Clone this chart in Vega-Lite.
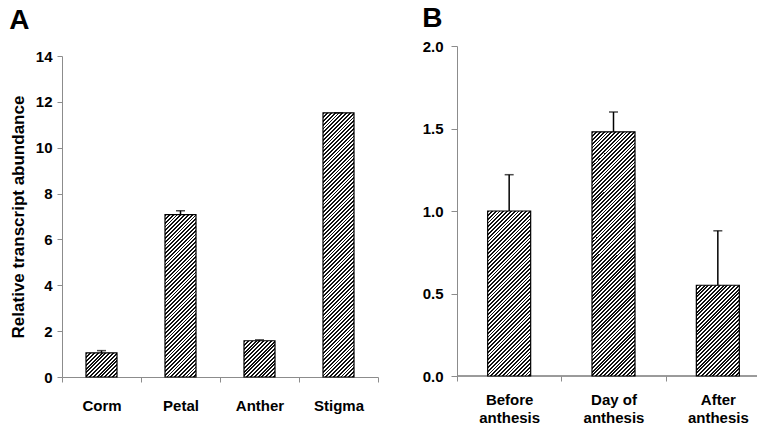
{
  "$schema": "https://vega.github.io/schema/vega-lite/v6.json",
  "background": "white",
  "padding": {"left": 9, "top": 5, "right": 0, "bottom": 0},
  "spacing": 43,
  "config": {
    "view": {"stroke": null},
    "font": "Liberation Sans",
    "axis": {
      "labelFont": "Liberation Sans",
      "labelFontWeight": "bold",
      "labelFontSize": 15,
      "labelColor": "#000",
      "titleFont": "Liberation Sans",
      "titleFontWeight": "bold",
      "titleFontSize": 17,
      "titleColor": "#000",
      "domainColor": "#8c8c8c",
      "tickColor": "#8c8c8c",
      "grid": false,
      "tickSize": 5
    },
    "title": {"font": "Liberation Sans", "fontWeight": "bold", "fontSize": 28, "color": "#000", "anchor": "start", "frame": "bounds"}
  },
  "params": [
    {"name": "hatch", "value": [
{"offset":0,"color":"#111"},
{"offset":0.00625,"color":"#111"},{"offset":0.00625,"color":"#fff"},
{"offset":0.0125,"color":"#fff"},{"offset":0.0125,"color":"#111"},
{"offset":0.01875,"color":"#111"},{"offset":0.01875,"color":"#fff"},
{"offset":0.025,"color":"#fff"},{"offset":0.025,"color":"#111"},
{"offset":0.03125,"color":"#111"},{"offset":0.03125,"color":"#fff"},
{"offset":0.0375,"color":"#fff"},{"offset":0.0375,"color":"#111"},
{"offset":0.04375,"color":"#111"},{"offset":0.04375,"color":"#fff"},
{"offset":0.05,"color":"#fff"},{"offset":0.05,"color":"#111"},
{"offset":0.05625,"color":"#111"},{"offset":0.05625,"color":"#fff"},
{"offset":0.0625,"color":"#fff"},{"offset":0.0625,"color":"#111"},
{"offset":0.06875,"color":"#111"},{"offset":0.06875,"color":"#fff"},
{"offset":0.075,"color":"#fff"},{"offset":0.075,"color":"#111"},
{"offset":0.08125,"color":"#111"},{"offset":0.08125,"color":"#fff"},
{"offset":0.0875,"color":"#fff"},{"offset":0.0875,"color":"#111"},
{"offset":0.09375,"color":"#111"},{"offset":0.09375,"color":"#fff"},
{"offset":0.1,"color":"#fff"},{"offset":0.1,"color":"#111"},
{"offset":0.10625,"color":"#111"},{"offset":0.10625,"color":"#fff"},
{"offset":0.1125,"color":"#fff"},{"offset":0.1125,"color":"#111"},
{"offset":0.11875,"color":"#111"},{"offset":0.11875,"color":"#fff"},
{"offset":0.125,"color":"#fff"},{"offset":0.125,"color":"#111"},
{"offset":0.13125,"color":"#111"},{"offset":0.13125,"color":"#fff"},
{"offset":0.1375,"color":"#fff"},{"offset":0.1375,"color":"#111"},
{"offset":0.14375,"color":"#111"},{"offset":0.14375,"color":"#fff"},
{"offset":0.15,"color":"#fff"},{"offset":0.15,"color":"#111"},
{"offset":0.15625,"color":"#111"},{"offset":0.15625,"color":"#fff"},
{"offset":0.1625,"color":"#fff"},{"offset":0.1625,"color":"#111"},
{"offset":0.16875,"color":"#111"},{"offset":0.16875,"color":"#fff"},
{"offset":0.175,"color":"#fff"},{"offset":0.175,"color":"#111"},
{"offset":0.18125,"color":"#111"},{"offset":0.18125,"color":"#fff"},
{"offset":0.1875,"color":"#fff"},{"offset":0.1875,"color":"#111"},
{"offset":0.19375,"color":"#111"},{"offset":0.19375,"color":"#fff"},
{"offset":0.2,"color":"#fff"},{"offset":0.2,"color":"#111"},
{"offset":0.20625,"color":"#111"},{"offset":0.20625,"color":"#fff"},
{"offset":0.2125,"color":"#fff"},{"offset":0.2125,"color":"#111"},
{"offset":0.21875,"color":"#111"},{"offset":0.21875,"color":"#fff"},
{"offset":0.225,"color":"#fff"},{"offset":0.225,"color":"#111"},
{"offset":0.23125,"color":"#111"},{"offset":0.23125,"color":"#fff"},
{"offset":0.2375,"color":"#fff"},{"offset":0.2375,"color":"#111"},
{"offset":0.24375,"color":"#111"},{"offset":0.24375,"color":"#fff"},
{"offset":0.25,"color":"#fff"},{"offset":0.25,"color":"#111"},
{"offset":0.25625,"color":"#111"},{"offset":0.25625,"color":"#fff"},
{"offset":0.2625,"color":"#fff"},{"offset":0.2625,"color":"#111"},
{"offset":0.26875,"color":"#111"},{"offset":0.26875,"color":"#fff"},
{"offset":0.275,"color":"#fff"},{"offset":0.275,"color":"#111"},
{"offset":0.28125,"color":"#111"},{"offset":0.28125,"color":"#fff"},
{"offset":0.2875,"color":"#fff"},{"offset":0.2875,"color":"#111"},
{"offset":0.29375,"color":"#111"},{"offset":0.29375,"color":"#fff"},
{"offset":0.3,"color":"#fff"},{"offset":0.3,"color":"#111"},
{"offset":0.30625,"color":"#111"},{"offset":0.30625,"color":"#fff"},
{"offset":0.3125,"color":"#fff"},{"offset":0.3125,"color":"#111"},
{"offset":0.31875,"color":"#111"},{"offset":0.31875,"color":"#fff"},
{"offset":0.325,"color":"#fff"},{"offset":0.325,"color":"#111"},
{"offset":0.33125,"color":"#111"},{"offset":0.33125,"color":"#fff"},
{"offset":0.3375,"color":"#fff"},{"offset":0.3375,"color":"#111"},
{"offset":0.34375,"color":"#111"},{"offset":0.34375,"color":"#fff"},
{"offset":0.35,"color":"#fff"},{"offset":0.35,"color":"#111"},
{"offset":0.35625,"color":"#111"},{"offset":0.35625,"color":"#fff"},
{"offset":0.3625,"color":"#fff"},{"offset":0.3625,"color":"#111"},
{"offset":0.36875,"color":"#111"},{"offset":0.36875,"color":"#fff"},
{"offset":0.375,"color":"#fff"},{"offset":0.375,"color":"#111"},
{"offset":0.38125,"color":"#111"},{"offset":0.38125,"color":"#fff"},
{"offset":0.3875,"color":"#fff"},{"offset":0.3875,"color":"#111"},
{"offset":0.39375,"color":"#111"},{"offset":0.39375,"color":"#fff"},
{"offset":0.4,"color":"#fff"},{"offset":0.4,"color":"#111"},
{"offset":0.40625,"color":"#111"},{"offset":0.40625,"color":"#fff"},
{"offset":0.4125,"color":"#fff"},{"offset":0.4125,"color":"#111"},
{"offset":0.41875,"color":"#111"},{"offset":0.41875,"color":"#fff"},
{"offset":0.425,"color":"#fff"},{"offset":0.425,"color":"#111"},
{"offset":0.43125,"color":"#111"},{"offset":0.43125,"color":"#fff"},
{"offset":0.4375,"color":"#fff"},{"offset":0.4375,"color":"#111"},
{"offset":0.44375,"color":"#111"},{"offset":0.44375,"color":"#fff"},
{"offset":0.45,"color":"#fff"},{"offset":0.45,"color":"#111"},
{"offset":0.45625,"color":"#111"},{"offset":0.45625,"color":"#fff"},
{"offset":0.4625,"color":"#fff"},{"offset":0.4625,"color":"#111"},
{"offset":0.46875,"color":"#111"},{"offset":0.46875,"color":"#fff"},
{"offset":0.475,"color":"#fff"},{"offset":0.475,"color":"#111"},
{"offset":0.48125,"color":"#111"},{"offset":0.48125,"color":"#fff"},
{"offset":0.4875,"color":"#fff"},{"offset":0.4875,"color":"#111"},
{"offset":0.49375,"color":"#111"},{"offset":0.49375,"color":"#fff"},
{"offset":0.5,"color":"#fff"},{"offset":0.5,"color":"#111"},
{"offset":0.50625,"color":"#111"},{"offset":0.50625,"color":"#fff"},
{"offset":0.5125,"color":"#fff"},{"offset":0.5125,"color":"#111"},
{"offset":0.51875,"color":"#111"},{"offset":0.51875,"color":"#fff"},
{"offset":0.525,"color":"#fff"},{"offset":0.525,"color":"#111"},
{"offset":0.53125,"color":"#111"},{"offset":0.53125,"color":"#fff"},
{"offset":0.5375,"color":"#fff"},{"offset":0.5375,"color":"#111"},
{"offset":0.54375,"color":"#111"},{"offset":0.54375,"color":"#fff"},
{"offset":0.55,"color":"#fff"},{"offset":0.55,"color":"#111"},
{"offset":0.55625,"color":"#111"},{"offset":0.55625,"color":"#fff"},
{"offset":0.5625,"color":"#fff"},{"offset":0.5625,"color":"#111"},
{"offset":0.56875,"color":"#111"},{"offset":0.56875,"color":"#fff"},
{"offset":0.575,"color":"#fff"},{"offset":0.575,"color":"#111"},
{"offset":0.58125,"color":"#111"},{"offset":0.58125,"color":"#fff"},
{"offset":0.5875,"color":"#fff"},{"offset":0.5875,"color":"#111"},
{"offset":0.59375,"color":"#111"},{"offset":0.59375,"color":"#fff"},
{"offset":0.6,"color":"#fff"},{"offset":0.6,"color":"#111"},
{"offset":0.60625,"color":"#111"},{"offset":0.60625,"color":"#fff"},
{"offset":0.6125,"color":"#fff"},{"offset":0.6125,"color":"#111"},
{"offset":0.61875,"color":"#111"},{"offset":0.61875,"color":"#fff"},
{"offset":0.625,"color":"#fff"},{"offset":0.625,"color":"#111"},
{"offset":0.63125,"color":"#111"},{"offset":0.63125,"color":"#fff"},
{"offset":0.6375,"color":"#fff"},{"offset":0.6375,"color":"#111"},
{"offset":0.64375,"color":"#111"},{"offset":0.64375,"color":"#fff"},
{"offset":0.65,"color":"#fff"},{"offset":0.65,"color":"#111"},
{"offset":0.65625,"color":"#111"},{"offset":0.65625,"color":"#fff"},
{"offset":0.6625,"color":"#fff"},{"offset":0.6625,"color":"#111"},
{"offset":0.66875,"color":"#111"},{"offset":0.66875,"color":"#fff"},
{"offset":0.675,"color":"#fff"},{"offset":0.675,"color":"#111"},
{"offset":0.68125,"color":"#111"},{"offset":0.68125,"color":"#fff"},
{"offset":0.6875,"color":"#fff"},{"offset":0.6875,"color":"#111"},
{"offset":0.69375,"color":"#111"},{"offset":0.69375,"color":"#fff"},
{"offset":0.7,"color":"#fff"},{"offset":0.7,"color":"#111"},
{"offset":0.70625,"color":"#111"},{"offset":0.70625,"color":"#fff"},
{"offset":0.7125,"color":"#fff"},{"offset":0.7125,"color":"#111"},
{"offset":0.71875,"color":"#111"},{"offset":0.71875,"color":"#fff"},
{"offset":0.725,"color":"#fff"},{"offset":0.725,"color":"#111"},
{"offset":0.73125,"color":"#111"},{"offset":0.73125,"color":"#fff"},
{"offset":0.7375,"color":"#fff"},{"offset":0.7375,"color":"#111"},
{"offset":0.74375,"color":"#111"},{"offset":0.74375,"color":"#fff"},
{"offset":0.75,"color":"#fff"},{"offset":0.75,"color":"#111"},
{"offset":0.75625,"color":"#111"},{"offset":0.75625,"color":"#fff"},
{"offset":0.7625,"color":"#fff"},{"offset":0.7625,"color":"#111"},
{"offset":0.76875,"color":"#111"},{"offset":0.76875,"color":"#fff"},
{"offset":0.775,"color":"#fff"},{"offset":0.775,"color":"#111"},
{"offset":0.78125,"color":"#111"},{"offset":0.78125,"color":"#fff"},
{"offset":0.7875,"color":"#fff"},{"offset":0.7875,"color":"#111"},
{"offset":0.79375,"color":"#111"},{"offset":0.79375,"color":"#fff"},
{"offset":0.8,"color":"#fff"},{"offset":0.8,"color":"#111"},
{"offset":0.80625,"color":"#111"},{"offset":0.80625,"color":"#fff"},
{"offset":0.8125,"color":"#fff"},{"offset":0.8125,"color":"#111"},
{"offset":0.81875,"color":"#111"},{"offset":0.81875,"color":"#fff"},
{"offset":0.825,"color":"#fff"},{"offset":0.825,"color":"#111"},
{"offset":0.83125,"color":"#111"},{"offset":0.83125,"color":"#fff"},
{"offset":0.8375,"color":"#fff"},{"offset":0.8375,"color":"#111"},
{"offset":0.84375,"color":"#111"},{"offset":0.84375,"color":"#fff"},
{"offset":0.85,"color":"#fff"},{"offset":0.85,"color":"#111"},
{"offset":0.85625,"color":"#111"},{"offset":0.85625,"color":"#fff"},
{"offset":0.8625,"color":"#fff"},{"offset":0.8625,"color":"#111"},
{"offset":0.86875,"color":"#111"},{"offset":0.86875,"color":"#fff"},
{"offset":0.875,"color":"#fff"},{"offset":0.875,"color":"#111"},
{"offset":0.88125,"color":"#111"},{"offset":0.88125,"color":"#fff"},
{"offset":0.8875,"color":"#fff"},{"offset":0.8875,"color":"#111"},
{"offset":0.89375,"color":"#111"},{"offset":0.89375,"color":"#fff"},
{"offset":0.9,"color":"#fff"},{"offset":0.9,"color":"#111"},
{"offset":0.90625,"color":"#111"},{"offset":0.90625,"color":"#fff"},
{"offset":0.9125,"color":"#fff"},{"offset":0.9125,"color":"#111"},
{"offset":0.91875,"color":"#111"},{"offset":0.91875,"color":"#fff"},
{"offset":0.925,"color":"#fff"},{"offset":0.925,"color":"#111"},
{"offset":0.93125,"color":"#111"},{"offset":0.93125,"color":"#fff"},
{"offset":0.9375,"color":"#fff"},{"offset":0.9375,"color":"#111"},
{"offset":0.94375,"color":"#111"},{"offset":0.94375,"color":"#fff"},
{"offset":0.95,"color":"#fff"},{"offset":0.95,"color":"#111"},
{"offset":0.95625,"color":"#111"},{"offset":0.95625,"color":"#fff"},
{"offset":0.9625,"color":"#fff"},{"offset":0.9625,"color":"#111"},
{"offset":0.96875,"color":"#111"},{"offset":0.96875,"color":"#fff"},
{"offset":0.975,"color":"#fff"},{"offset":0.975,"color":"#111"},
{"offset":0.98125,"color":"#111"},{"offset":0.98125,"color":"#fff"},
{"offset":0.9875,"color":"#fff"},{"offset":0.9875,"color":"#111"},
{"offset":0.99375,"color":"#111"},{"offset":0.99375,"color":"#fff"},
{"offset":1,"color":"#fff"}
    ]}
  ],
  "hconcat": [
    {
      "title": {"text": "A", "offset": 11},
      "width": 316,
      "height": 331,
      "data": {"values": [
        {"tissue": "Corm", "value": 1.05, "upper": 1.15},
        {"tissue": "Petal", "value": 7.08, "upper": 7.25},
        {"tissue": "Anther", "value": 1.58, "upper": 1.62},
        {"tissue": "Stigma", "value": 11.52, "upper": 11.52}
      ]},
      "encoding": {
        "x": {
          "field": "tissue", "type": "nominal", "sort": null,
          "scale": {"paddingInner": 0, "paddingOuter": 0},
          "axis": {"title": null, "labelAngle": 0, "tickBand": "extent", "labelPadding": 16, "labelOverlap": false}
        },
        "y": {
          "type": "quantitative",
          "scale": {"domain": [0, 14], "nice": false, "range": [331, 10]},
          "axis": {"title": "Relative transcript abundance", "values": [0, 2, 4, 6, 8, 10, 12, 14], "labelPadding": 5, "titlePadding": 8}
        }
      },
      "layer": [
        {
          "mark": {
            "type": "bar", "width": 31, "stroke": "#000", "strokeWidth": 1.2,
            "fill": {"expr": "{gradient: 'linear', x1: 0, y1: 0, x2: 31 * 304 / (961 + pow(datum.value * 22.9286, 2)), y2: datum.value * 22.9286 * 304 / (961 + pow(datum.value * 22.9286, 2)), stops: hatch}"}
          },
          "encoding": {
            "y": {"field": "value", "type": "quantitative", "stack": null}
          }
        },
        {
          "mark": {"type": "rule", "color": "#000", "strokeWidth": 1.5},
          "encoding": {
            "y": {"field": "value", "type": "quantitative"},
            "y2": {"field": "upper"}
          }
        },
        {
          "mark": {"type": "tick", "color": "#000", "size": 9, "thickness": 1.5},
          "encoding": {
            "y": {"field": "upper", "type": "quantitative"}
          }
        }
      ]
    },
    {
      "title": {"text": "B", "offset": 6},
      "width": 300,
      "height": 330,
      "data": {"values": [
        {"stage": "Before anthesis", "value": 1.0, "upper": 1.22},
        {"stage": "Day of anthesis", "value": 1.48, "upper": 1.6},
        {"stage": "After anthesis", "value": 0.55, "upper": 0.88}
      ]},
      "encoding": {
        "y": {
          "type": "quantitative",
          "scale": {"domain": [0, 2], "nice": false},
          "axis": {"title": null, "values": [0, 0.5, 1, 1.5, 2], "format": ".1f", "labelPadding": 8, "tickSize": 6}
        }
      },
      "layer": [
        {
          "mark": {"type": "rule", "color": "#8c8c8c", "strokeWidth": 1},
          "encoding": {"y": {"datum": 0, "type": "quantitative"}}
        },
        {
          "mark": {
            "type": "bar", "width": 43, "stroke": "#000", "strokeWidth": 1.2,
            "fill": {"expr": "{gradient: 'linear', x1: 0, y1: 0, x2: 43 * 304 / (1849 + pow(datum.value * 165, 2)), y2: datum.value * 165 * 304 / (1849 + pow(datum.value * 165, 2)), stops: hatch}"}
          },
          "encoding": {
            "x": {
              "field": "stage", "type": "nominal", "sort": null,
              "scale": {"paddingInner": 0, "paddingOuter": 0, "range": [0, 313]},
              "axis": {
                "title": null, "labelAngle": 0, "labelPadding": 11, "labelOverlap": false, "domain": false,
                "tickOffset": -52.17, "labelOffset": 52.17, "labelLineHeight": 18,
                "labelExpr": "datum.label == 'Day of anthesis' ? ['Day of', 'anthesis'] : split(datum.label, ' ')"
              }
            },
            "y": {"field": "value", "type": "quantitative", "stack": null}
          }
        },
        {
          "mark": {"type": "rule", "color": "#000", "strokeWidth": 1.5},
          "encoding": {
            "x": {"field": "stage", "type": "nominal", "sort": null},
            "y": {"field": "value", "type": "quantitative"},
            "y2": {"field": "upper"}
          }
        },
        {
          "mark": {"type": "tick", "color": "#000", "size": 9, "thickness": 1.5},
          "encoding": {
            "x": {"field": "stage", "type": "nominal", "sort": null},
            "y": {"field": "upper", "type": "quantitative"}
          }
        }
      ]
    }
  ]
}
